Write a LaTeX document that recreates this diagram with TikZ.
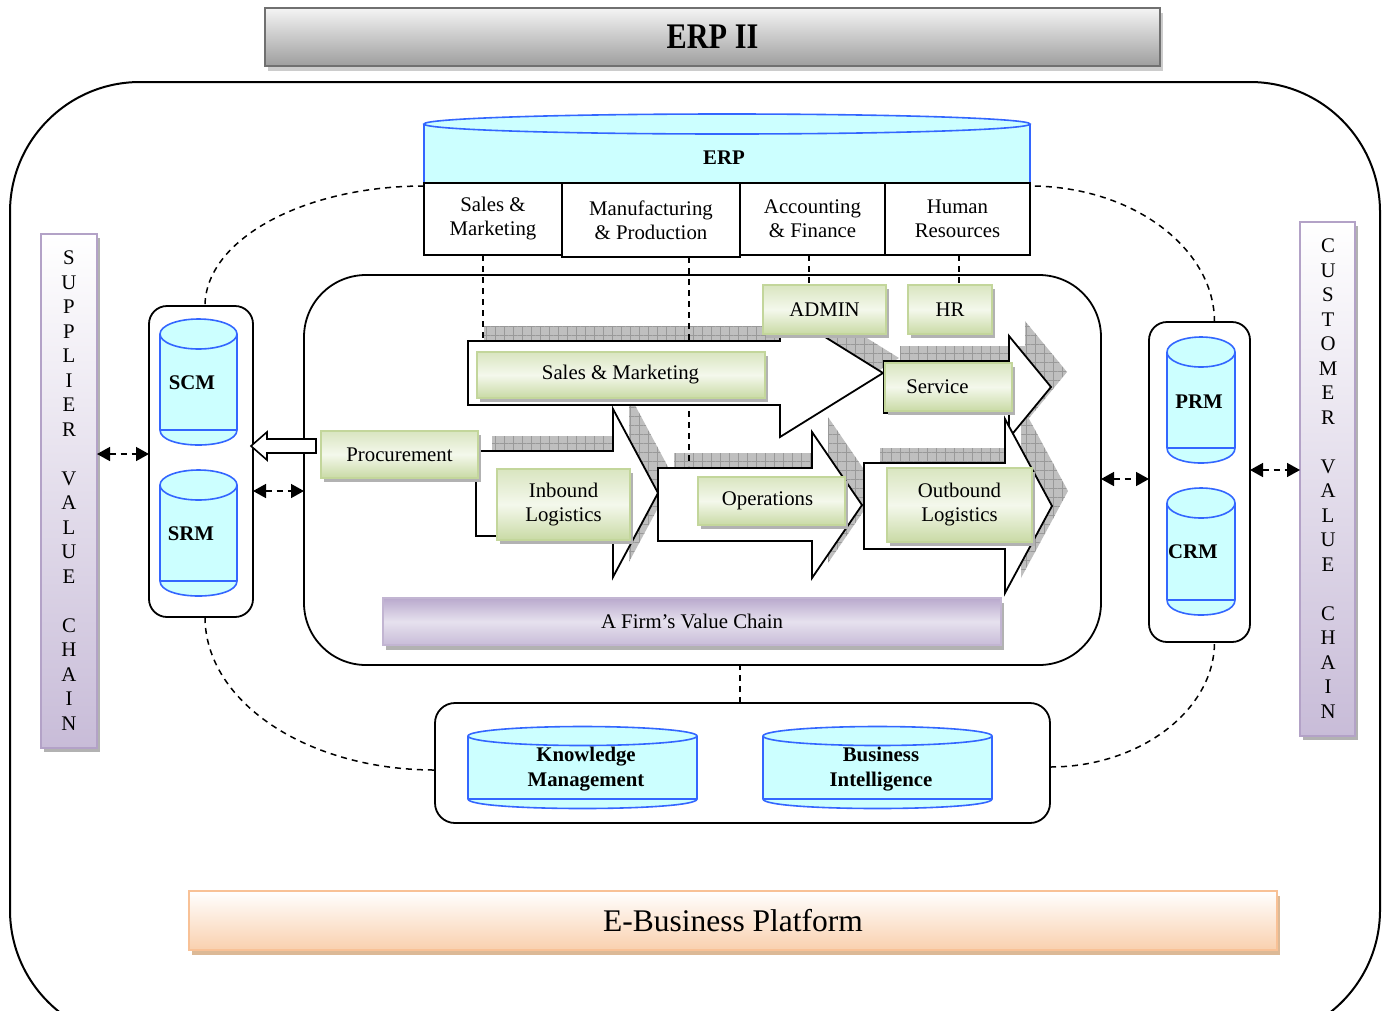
\documentclass[tikz,border=0pt]{standalone}
\usepackage{fontspec}
\setmainfont{Liberation Serif}
\usetikzlibrary{shadows,patterns.meta,arrows.meta,calc}
\pgfdeclarelayer{shade}
\pgfdeclarelayer{links}
\pgfsetlayers{shade,links,main}

\definecolor{cylfill}{HTML}{CCFFFF}
\definecolor{cylline}{HTML}{3366FF}
\definecolor{gtop}{HTML}{D9E5C0}
\definecolor{gmid}{HTML}{F4F8EC}
\definecolor{gbot}{HTML}{C9DAA5}
\definecolor{gline}{HTML}{C3D69B}
\definecolor{ptop}{HTML}{B9A9CD}
\definecolor{pmid}{HTML}{E6E1EE}
\definecolor{pbot}{HTML}{C8BCD8}
\definecolor{pline}{HTML}{B3A2C7}
\definecolor{obot}{HTML}{F9D0AE}
\definecolor{oline}{HTML}{F8C196}
\definecolor{etop}{HTML}{F4F4F4}
\definecolor{ebot}{HTML}{9E9E9E}
\definecolor{eline}{HTML}{707070}

\newcommand\labelsize{\fontsize{20.8}{24}\selectfont}

% database cylinder: left x, right x, top centre y, bottom y, half height of the caps
\newcommand\dbcyl[5]{%
  \pgfmathsetmacro\cylcx{(#1+#2)/2}%
  \pgfmathsetmacro\cylrx{(#2-#1)/2}%
  \pgfmathsetmacro\cylc{#4+1.333*#5}%
  \fill[cylfill] (#1,#3) -- (#1,#4) .. controls (#1,\cylc) and (#2,\cylc) .. (#2,#4) -- (#2,#3) -- cycle;
  \fill[cylfill] (\cylcx,#3) ellipse[x radius=\cylrx, y radius=#5];
  \draw[cylline, line width=1.6pt] (#1,#3) -- (#1,#4) .. controls (#1,\cylc) and (#2,\cylc) .. (#2,#4) -- (#2,#3);
  \draw[cylline, line width=1.6pt] (#1,#4) -- (#2,#4);
  \draw[cylline, line width=1.6pt] (\cylcx,#3) ellipse[x radius=\cylrx, y radius=#5];
}

% value chain block arrows
\newcommand\arrSales[1]{\path[#1] (468,341) -- (780,341) -- (780,309) -- (883,373) -- (780,437) -- (780,405) -- (468,405) -- cycle;}
\newcommand\arrInbound[1]{\path[#1] (476,451) -- (613,451) -- (613,409) -- (658,493) -- (613,577) -- (613,536) -- (476,536) -- cycle;}
\newcommand\arrOps[1]{\path[#1] (658,468) -- (812,468) -- (812,432) -- (862,505) -- (812,578) -- (812,541) -- (658,541) -- cycle;}
\newcommand\arrService[1]{\path[#1] (884,361) -- (1009,361) -- (1009,336) -- (1051,387) -- (1009,438) -- (1009,413) -- (884,413) -- cycle;}
\newcommand\arrOut[1]{\path[#1] (864,463) -- (1005,463) -- (1005,419) -- (1052,506) -- (1005,593) -- (1005,549) -- (864,549) -- cycle;}

\begin{document}
\begin{tikzpicture}[x=1pt,y=-1pt,
  every node/.style={font=\labelsize, inner sep=0pt, outer sep=0pt},
  gbox/.style={draw=gline, line width=2pt, top color=gtop, bottom color=gbot, middle color=gmid,
    align=center, drop shadow={shadow xshift=3pt, shadow yshift=-4pt, fill=gray!60, opacity=1}},
  modbox/.style={draw, line width=1.8pt, fill=white, align=center},
  frame/.style={draw, line width=1.8pt, rounded corners=#1},
  vcarrow/.style={draw, line width=1.8pt, fill=white, line join=miter},
  shadowfill/.style={fill=gray!50, postaction={pattern={Hatch[angle=0,distance=9pt,line width=0.5pt]}, pattern color=gray!80}},
  dl/.style={dash pattern=on 6pt off 5pt, line width=1.5pt},
  dbl/.style={dl, {Triangle[length=13pt,width=14pt]}-{Triangle[length=13pt,width=14pt]}},
  hollow/.style={draw, line width=1.6pt, fill=white, line join=miter},
  greybar/.style={draw=eline, line width=2.5pt, top color=etop, bottom color=ebot,
    drop shadow={shadow xshift=3pt, shadow yshift=-5pt, fill=gray!40, opacity=1}},
  lilacbar/.style={draw=pline, line width=2.5pt, top color=white, bottom color=pbot,
    drop shadow={shadow xshift=3pt, shadow yshift=-4pt, fill=gray!60, opacity=1}},
  firmbar/.style={draw=pline!80, line width=2pt, top color=ptop, bottom color=pbot, middle color=pmid,
    drop shadow={shadow xshift=3pt, shadow yshift=-5pt, fill=gray!60, opacity=1}},
  peachbar/.style={draw=oline, line width=2.5pt, top color=white, bottom color=obot,
    drop shadow={shadow xshift=3pt, shadow yshift=-5pt, fill=brown!55, opacity=1}}]

\useasboundingbox (0,0) rectangle (1388,1010);
\clip (0,0) rectangle (1388,1010);

% platform outline
\draw[line width=2pt, rounded corners=130pt] (10,82) rectangle (1380,1040);

% title banner
\node[greybar, minimum width=895, minimum height=58] (title) at (712.5,37)
  {\scalebox{0.84}[1]{\fontsize{36}{40}\selectfont\bfseries ERP II}};

% ERP core with its modules
\dbcyl{424}{1030}{124}{183}{10}
\node (erp) at (724,158) {\bfseries ERP};
\node[modbox, minimum width=138, minimum height=72] (m1) at (493,219) {Sales \&\\Marketing};
\node[modbox, minimum width=178, minimum height=74] (m2) at (651,220) {Manufacturing\\\& Production};
\node[modbox, minimum width=145, minimum height=72] (m3) at (812.5,219) {Accounting\\\& Finance};
\node[modbox, minimum width=145, minimum height=72] (m4) at (957.5,219) {Human\\Resources};

% value chain bars on both sides
\node[lilacbar, minimum width=56, minimum height=514] (supbar) at (69,491) {};
\node[lilacbar, minimum width=55, minimum height=514] (cusbar) at (1327.5,479) {};
\foreach \k/\ch in {0/S,1/U,2/P,3/P,4/L,5/I,6/E,7/R,9/V,10/A,11/L,12/U,13/E,15/C,16/H,17/A,18/I,19/N}
  \node (sup\k) at (69,{258+\k*24.5}) {\ch};
\foreach \k/\ch in {0/C,1/U,2/S,3/T,4/O,5/M,6/E,7/R,9/V,10/A,11/L,12/U,13/E,15/C,16/H,17/A,18/I,19/N}
  \node (cus\k) at (1328,{246+\k*24.5}) {\ch};

% containers
\node[frame=18pt, minimum width=104, minimum height=311] (scmbox) at (201,461.5) {};
\node[frame=18pt, minimum width=101, minimum height=320] (prmbox) at (1199.5,482) {};
\node[frame=20pt, minimum width=615, minimum height=120] (kmbi) at (742.5,763) {};
\node[frame=62pt, minimum width=797, minimum height=390] (inner) at (702.5,470) {};

% databases
\dbcyl{160}{237}{334}{430}{15}
\node (scm) at (192,383) {\bfseries SCM};
\dbcyl{160}{237}{485}{581}{15}
\node (srm) at (191,534) {\bfseries SRM};
\dbcyl{1167}{1235}{352}{448}{15}
\node (prm) at (1199,402) {\bfseries PRM};
\dbcyl{1167}{1235}{503}{600}{15}
\node (crm) at (1193,552) {\bfseries CRM};
\dbcyl{468}{697}{736}{799}{9.5}
\node[align=center, font=\fontsize{20.8}{25}\selectfont\bfseries] (km) at (586,769) {Knowledge\\Management};
\dbcyl{763}{992}{736}{799}{9.5}
\node[align=center, font=\fontsize{20.8}{25}\selectfont\bfseries] (bi) at (881,769) {Business\\Intelligence};

% firm value chain and platform bars
\node[firmbar, minimum width=618, minimum height=47] (firm) at (692,621.5) {A Firm’s Value Chain};
\node[peachbar, minimum width=1088, minimum height=59] (ebus) at (733,920.5)
  {\fontsize{31.5}{36}\selectfont E-Business Platform};

% hatched shadows behind the block arrows
\begin{pgfonlayer}{shade}
  \begin{scope}[shift={(16,-15)}]
    \arrSales{shadowfill}
    \arrInbound{shadowfill}
    \arrOps{shadowfill}
    \arrService{shadowfill}
    \arrOut{shadowfill}
  \end{scope}
\end{pgfonlayer}

% block arrows of the value chain
\arrSales{vcarrow}
\arrInbound{vcarrow}
\arrOps{vcarrow}
\arrService{vcarrow}
\arrOut{vcarrow}

% activity boxes
\node[gbox, minimum width=157, minimum height=47] (proc) at (399.5,454.5) {Procurement};
\node[gbox, minimum width=288, minimum height=46] (sales) at (620.5,375) {Sales \& Marketing};
\node[gbox, minimum width=133, minimum height=71] (inb) at (563.5,504.5) {Inbound\\Logistics};
\node[gbox, minimum width=147, minimum height=48] (ops) at (771.5,501) {Operations\hspace*{8pt}};
\node[gbox, minimum width=127, minimum height=48] (serv) at (948.5,387) {Service\hspace*{22pt}};
\node[gbox, minimum width=145, minimum height=74] (outb) at (959.5,505) {Outbound\\Logistics};
\node[gbox, minimum width=123, minimum height=49] (admin) at (824.5,309.5) {ADMIN};
\node[gbox, minimum width=84, minimum height=49] (hr) at (950,309.5) {HR};

% dashed links
\begin{pgfonlayer}{links}
  \draw[dl] ([yshift=-3pt]m1.north west) .. controls +(-121,0) and +(0,-66) .. ([xshift=4pt]scmbox.north);
  \draw[dl] ([xshift=4pt]scmbox.south) .. controls +(0,84) and +(-129,0) .. ([yshift=-7pt]kmbi.west);
  \draw[dl] ([yshift=-4pt]kmbi.east) .. controls +(90,0) and +(0,68) .. ([xshift=15pt]prmbox.south);
  \draw[dl] ([xshift=15pt]prmbox.north) .. controls +(0,-74) and +(102,0) .. ([yshift=-3pt]m4.north east);
  \draw[dl] ([xshift=-10pt]m1.south) -- ++(0,86);
  \draw[dl] ([xshift=38pt]m2.south) -- ++(0,209);
  \draw[dl] ([xshift=-3.5pt]m3.south) -- ++(0,30);
  \draw[dl] ([xshift=1.5pt]m4.south) -- ++(0,30);
  \draw[dl] ([xshift=-2.5pt]kmbi.north) -- ++(0,-38);
\end{pgfonlayer}

% exchanges between the layers
\draw[dbl] (supbar.east |- 0,454) -- (scmbox.west |- 0,454);
\draw[dbl] (scmbox.east |- 0,491) -- (inner.west |- 0,491);
\draw[dbl] (inner.east |- 0,479) -- (prmbox.west |- 0,479);
\draw[dbl] (prmbox.east |- 0,470) -- (cusbar.west |- 0,470);

% procurement feeds the supply chain
\path (proc.west |- 0,446) ++(-5,0) coordinate (hb);
\path (scmbox.east |- 0,446) ++(-2,0) coordinate (ht);
\draw[hollow] ($(hb)+(0,-7)$) -- ($(ht)+(16,-7)$) -- ($(ht)+(16,-14)$) -- (ht)
  -- ($(ht)+(16,14)$) -- ($(ht)+(16,7)$) -- ($(hb)+(0,7)$) -- cycle;

\end{tikzpicture}
\end{document}
